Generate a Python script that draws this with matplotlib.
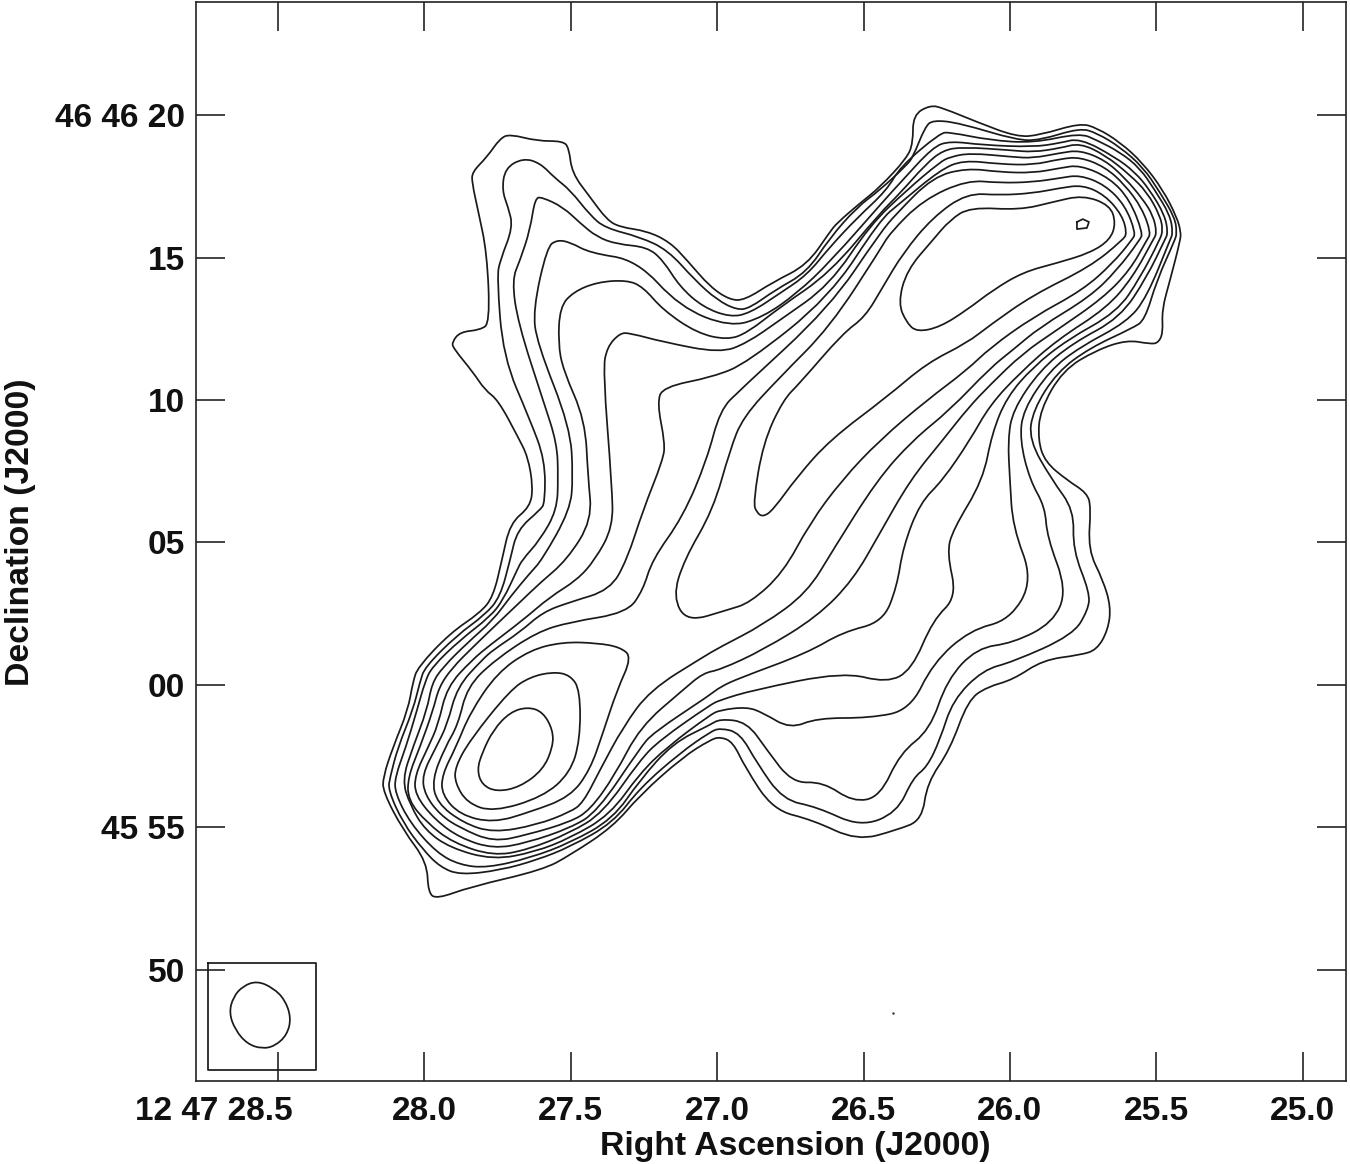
import numpy as np
import matplotlib
matplotlib.use("Agg")
import matplotlib.pyplot as plt
from matplotlib.path import Path
from matplotlib.patches import PathPatch
from matplotlib.transforms import ScaledTranslation

plt.rcParams['font.family'] = ['Liberation Sans', 'DejaVu Sans']

# contours as (RA seconds after 12 47, Dec arcsec after 46 46 00)
level1 = [(27.957,-7.51),(27.987,-7.30),(27.991,-6.21),(28.073,-5.09),(28.141,-3.75),(28.141,-3.23),(28.107,-2.18),
          (28.056,-0.88),(28.039,0.11),(28.022,0.63),(27.912,1.82),(27.810,2.53),(27.765,3.09),(27.735,4.39),
          (27.707,5.68),(27.639,6.25),(27.629,6.95),(27.646,8.00),(27.680,8.70),(27.748,10.00),(27.793,10.35),
          (27.834,10.98),(27.902,11.83),(27.905,12.04),(27.878,12.39),(27.810,12.46),(27.776,12.70),(27.786,15.16),
          (27.817,16.67),(27.837,17.62),(27.837,18.00),(27.786,18.53),(27.741,19.19),(27.707,19.33),(27.615,19.09),
          (27.526,19.09),(27.506,18.84),(27.496,17.97),(27.434,17.12),(27.376,16.32),(27.332,16.07),(27.239,15.93),
          (27.161,15.54),(27.103,14.91),(27.024,13.97),(26.956,13.51),(26.905,13.51),(26.809,14.14),(26.693,14.74),
          (26.615,15.90),(26.591,16.21),(26.512,16.91),(26.444,17.47),(26.352,18.49),(26.331,19.02),(26.331,20.00),
          (26.273,20.35),(26.229,20.25),(26.113,19.76),(25.976,19.23),(25.897,19.30),(25.761,19.72),(25.703,19.55),
          (25.624,19.05),(25.546,18.32),(25.477,17.37),(25.430,16.42),(25.416,15.90),(25.418,15.60),(25.453,14.21),
          (25.481,13.16),(25.477,12.35),(25.494,12.00),(25.522,11.97),(25.600,12.11),(25.703,11.76),(25.819,11.05),
          (25.897,9.65),(25.904,8.60),(25.880,7.83),(25.805,7.19),(25.737,6.74),(25.723,6.25),
          (25.733,4.74),(25.682,3.68),(25.655,2.74),(25.665,1.93),(25.703,1.23),(25.761,1.05),(25.887,0.88),
          (25.990,0.18),(26.078,-0.07),(26.143,-0.53),(26.205,-2.28),(26.283,-3.44),(26.300,-4.74),(26.386,-5.09),
          (26.522,-5.47),(26.673,-4.74),(26.809,-4.39),(26.905,-2.88),(26.946,-2.00),(26.990,-1.82),(27.024,-1.93),
          (27.117,-2.53),(27.263,-3.86),(27.356,-4.98),(27.502,-5.97),(27.595,-6.49),(27.844,-7.09)]

level2 = [(27.878,-6.67),(27.946,-6.39),(28.004,-5.79),(28.073,-4.84),(28.124,-3.68),(28.117,-3.23),(28.090,-2.18),
          (28.039,-0.88),(28.015,0.11),(27.998,0.63),(27.888,1.75),(27.793,2.46),(27.741,3.09),(27.707,4.39),
          (27.683,5.44),(27.605,6.14),(27.588,6.39),(27.588,7.90),(27.639,9.30),(27.731,11.51),(27.752,14.32),
          (27.741,14.91),(27.697,16.07),(27.714,16.77),(27.735,17.37),(27.724,18.14),(27.663,18.49),(27.605,18.32),
          (27.554,17.79),(27.502,17.37),(27.434,16.49),(27.383,16.04),(27.263,15.72),(27.168,15.26),(27.076,14.21),
          (27.000,13.51),(26.932,13.16),(26.888,13.23),(26.802,13.86),(26.693,14.49),(26.615,15.69),(26.522,16.77),
          (26.444,17.37),(26.352,18.25),(26.331,18.53),(26.290,19.58),(26.263,19.83),(26.171,19.72),(25.976,19.12),
          (25.897,19.12),(25.761,19.55),(25.703,19.37),(25.624,18.88),(25.546,18.18),(25.488,17.30),(25.436,16.39),
          (25.430,15.86),(25.436,15.62),(25.498,14.21),(25.539,12.81),(25.580,12.53),(25.727,11.83),(25.839,10.98),
          (25.921,9.65),(25.935,8.60),(25.856,7.19),(25.781,6.14),(25.785,4.74),
          (25.727,3.23),(25.733,2.63),(25.785,1.75),(25.990,0.81),(26.092,0.53),(26.195,-0.53),(26.239,-1.93),
          (26.283,-2.88),(26.331,-3.26),(26.386,-4.49),(26.512,-4.98),(26.659,-4.28),(26.775,-4.04),(26.864,-2.74),
          (26.922,-1.68),(26.990,-1.51),(27.024,-1.65),(27.127,-2.39),(27.263,-3.61),(27.356,-4.84),(27.502,-5.68),
          (27.615,-6.14),(27.740,-6.50)]

level3 = [(27.786,-6.42),(27.878,-6.32),(27.957,-5.90),(28.049,-4.84),(28.100,-3.79),(28.100,-3.23),(28.063,-2.18),
          (28.025,-0.88),(27.998,0.11),(27.974,0.63),(27.878,1.58),(27.776,2.39),(27.731,2.98),(27.683,4.04),
          (27.666,4.39),(27.605,5.09),(27.547,6.14),(27.543,7.30),(27.547,8.49),(27.595,10.00),(27.680,12.70),
          (27.701,14.21),(27.673,14.91),(27.639,15.97),(27.622,17.09),(27.598,17.12),(27.526,16.77),(27.468,16.21),
          (27.410,15.72),(27.342,15.47),(27.239,15.37),(27.185,14.91),(27.127,13.97),(27.048,13.26),(26.956,12.91),
          (26.888,13.05),(26.785,13.75),(26.693,14.39),(26.615,15.37),(26.522,16.39),(26.420,17.37),(26.375,18.18),
          (26.239,19.37),(26.205,19.40),(26.068,19.12),(25.921,19.02),(25.761,19.37),(25.703,19.12),(25.624,18.70),
          (25.556,18.14),(25.505,17.37),(25.453,16.49),(25.443,15.86),(25.453,15.62),(25.532,13.62),(25.600,12.74),
          (25.761,11.86),(25.863,11.05),(25.955,9.65),(25.966,8.60),(25.932,7.19),(25.880,6.25),
          (25.873,5.19),(25.805,3.33),(25.853,2.18),(25.990,1.47),(26.113,1.30),(26.215,0.18),(26.273,-1.58),
          (26.375,-2.39),(26.444,-3.93),(26.536,-4.11),(26.638,-3.40),(26.744,-3.44),(26.830,-2.28),(26.898,-1.30),
          (26.990,-1.19),(27.024,-1.40),(27.151,-2.04),(27.263,-3.33),(27.356,-4.70),(27.502,-5.54),(27.639,-6.07)]

level4 = [(27.765,-6.14),(27.912,-5.72),(27.998,-5.09),(28.049,-4.21),(28.076,-3.33),(28.039,-2.18),(27.991,-0.88),
          (27.974,0.07),(27.936,0.63),(27.854,1.47),(27.765,2.28),(27.707,3.09),(27.639,3.93),(27.598,4.39),
          (27.502,6.14),(27.492,7.30),(27.502,9.05),(27.615,12.00),(27.629,13.16),(27.581,15.37),(27.547,15.62),
          (27.502,15.54),(27.434,15.16),(27.274,14.91),(27.127,13.26),(26.956,12.56),(26.843,12.91),(26.727,13.75),
          (26.615,14.84),(26.420,17.12),(26.375,17.62),(26.263,18.88),(26.205,19.09),(26.092,18.95),(25.921,18.88),
          (25.829,19.02),(25.761,19.19),(25.641,18.53),(25.573,18.00),(25.522,17.37),(25.471,16.49),(25.460,15.86),
          (25.471,15.62),(25.532,14.32),(25.624,12.88),(25.785,12.00),(25.897,11.05),(25.990,9.65),(26.007,8.60),
          (26.000,7.19),(25.990,5.54),(25.921,3.68),(26.000,2.28),(26.136,1.93),(26.263,0.77),(26.341,-0.88),
          (26.478,-1.16),(26.659,-1.16),(26.751,-1.54),(26.843,-0.98),(26.898,-0.77),(26.990,-0.88),(27.024,-1.05),
          (27.171,-2.18),(27.263,-3.09),(27.366,-4.56),(27.502,-5.37),(27.622,-5.86)]

level5 = [(27.765,-6.00),(27.902,-5.54),(27.991,-4.84),(28.056,-4.04),(28.056,-3.23),(28.015,-2.18),(27.970,-0.88),
          (27.950,-0.07),(27.905,0.60),(27.834,1.33),(27.748,2.18),(27.673,2.91),(27.605,3.58),(27.513,4.39),
          (27.427,5.79),(27.441,7.30),(27.451,9.30),(27.526,11.05),(27.543,12.00),(27.537,13.26),(27.492,13.79),
          (27.410,14.14),(27.308,14.21),(27.253,13.97),(27.185,13.16),(27.069,12.35),(26.966,12.11),(26.898,12.35),
          (26.785,13.26),(26.615,14.46),(26.444,16.56),(26.375,17.26),(26.290,18.25),(26.229,18.77),(26.160,18.88),
          (26.000,18.77),(25.921,18.70),(25.829,18.84),(25.761,19.02),(25.675,18.60),(25.590,17.90),(25.532,17.30),
          (25.488,16.49),(25.477,15.97),(25.488,15.62),(25.556,14.28),(25.634,13.09),(25.805,12.11),(25.921,11.16),
          (26.010,10.11),(26.061,8.84),(26.092,7.19),(26.195,5.44),(26.215,4.63),(26.181,3.09),(26.263,2.28),
          (26.335,0.53),(26.420,0.07),(26.570,0.46),(26.877,-0.18),(26.990,-0.53),(27.024,-0.70),(27.195,-1.93),
          (27.263,-2.63),(27.390,-4.49),(27.502,-5.19),(27.649,-5.79)]

level6 = [(27.765,-5.75),(27.878,-5.37),(27.963,-4.74),(28.032,-3.86),(28.032,-3.16),(27.987,-2.18),(27.953,-1.40),
          (27.923,-0.07),(27.837,0.88),(27.776,1.40),(27.663,2.28),(27.571,3.09),(27.479,3.68),(27.417,4.39),
          (27.356,5.54),(27.359,6.95),(27.390,11.05),(27.376,11.86),(27.332,12.35),(27.298,12.35),(27.185,12.04),
          (26.990,11.65),(26.898,12.00),(26.785,12.81),(26.615,14.04),(26.478,16.14),(26.352,17.37),(26.239,18.35),
          (26.205,18.53),(26.136,18.67),(25.990,18.53),(25.921,18.49),(25.829,18.67),(25.761,18.77),(25.675,18.42),
          (25.607,17.79),(25.549,17.09),(25.511,16.49),(25.498,15.86),(25.511,15.62),(25.580,14.32),(25.669,13.23),
          (25.839,12.11),(25.966,10.95),(26.068,9.83),(26.136,8.60),(26.229,7.19),(26.307,6.39),(26.365,4.84),
          (26.386,3.44),(26.434,2.21),(26.570,1.86),(26.693,1.12),(26.922,0.25),(26.990,-0.07),(27.024,-0.35),
          (27.219,-1.68),(27.263,-2.21),(27.410,-4.46),(27.502,-5.02),(27.649,-5.54)]

level7 = [(27.765,-5.51),(27.878,-5.02),(27.946,-4.56),(27.998,-3.86),(28.008,-3.16),(27.960,-2.18),(27.922,-1.40),
          (27.888,-0.07),(27.803,0.88),(27.765,1.23),(27.673,1.86),(27.595,2.56),(27.502,2.91),(27.366,3.33),
          (27.308,4.39),(27.253,6.14),(27.185,7.90),(27.178,8.49),(27.205,9.90),(27.185,10.46),(27.014,10.81),
          (26.898,11.30),(26.615,13.62),(26.444,16.32),(26.375,16.91),(26.239,18.07),(26.160,18.42),(26.034,18.28),
          (25.921,18.25),(25.829,18.46),(25.761,18.53),(25.675,18.18),(25.607,17.55),(25.549,16.74),(25.518,15.86),
          (25.532,15.62),(25.590,14.56),(25.682,13.58),(25.839,12.46),(25.955,11.65),(26.068,10.53),(26.143,9.72),
          (26.229,8.60),(26.341,7.19),(26.444,5.33),(26.536,3.68),(26.659,2.39),(26.843,1.23),(26.990,0.53),
          (27.048,0.42),(27.117,-0.18),(27.263,-1.47),(27.349,-3.16),(27.434,-4.39),(27.502,-4.81),(27.649,-5.26)]

level8 = [(27.765,-5.19),(27.868,-4.84),(27.957,-4.14),(27.974,-3.33),(27.929,-2.18),(27.885,-1.40),(27.854,-0.07),
          (27.759,0.88),(27.615,1.86),(27.502,2.21),(27.308,2.53),(27.253,3.33),(27.222,4.39),(27.117,5.90),
          (27.035,7.90),(26.990,9.65),(26.922,10.35),(26.615,13.26),(26.444,15.86),(26.386,16.56),(26.263,17.83),
          (26.147,18.14),(26.034,18.00),(25.921,17.97),(25.829,18.14),(25.761,18.25),(25.658,17.79),(25.590,17.02),
          (25.546,15.86),(25.556,15.62),(25.634,14.56),(25.727,13.62),(25.897,12.56),(25.990,11.76),(26.068,11.12),
          (26.205,9.65),(26.331,8.60),(26.454,7.19),(26.604,4.74),(26.693,3.23),(26.843,2.11),(26.990,1.33),
          (27.048,0.98),(27.229,-0.18),(27.321,-1.47),(27.400,-2.98),(27.458,-4.14),(27.502,-4.46),(27.615,-4.91)]

level9_ne = [(27.151,3.09),(27.113,4.39),(27.014,6.14),(26.956,8.25),(26.912,9.40),(26.785,10.81),(26.615,12.56),
             (26.444,15.26),(26.410,15.86),(26.297,17.02),(26.147,17.72),(26.034,17.62),(25.921,17.65),(25.829,17.79),
             (25.761,17.90),(25.675,17.55),(25.607,16.84),(25.570,15.86),(25.583,15.62),(25.648,14.81),(25.751,13.86),
             (25.921,12.91),(26.068,11.83),(26.147,11.05),(26.283,10.00),(26.444,8.60),(26.574,7.19),(26.683,5.68),
             (26.775,3.93),(26.888,2.88),(26.966,2.63),(27.103,2.21)]

level9_sw = [(27.291,0.98),(27.342,-0.18),(27.390,-1.68),(27.434,-2.98),(27.502,-3.93),(27.639,-4.46),
             (27.765,-4.84),(27.878,-4.56),(27.940,-3.86),(27.940,-3.16),(27.892,-2.18),(27.844,-0.98),(27.752,0.42),
             (27.639,1.23),(27.526,1.51),(27.410,1.47),(27.332,1.33)]

level10_ne = [(26.877,6.39),(26.864,6.04),(26.843,5.90),(26.809,6.14),(26.727,7.30),(26.615,8.60),(26.420,10.11),
              (26.283,11.30),(26.147,12.00),(26.068,12.63),(25.921,13.69),(25.727,14.67),(25.614,15.62),(25.600,15.86),
              (25.617,16.49),(25.675,17.19),(25.751,17.55),(25.829,17.44),(25.921,17.26),(26.034,17.19),(26.147,17.26),
              (26.263,16.42),(26.365,15.16),(26.434,13.97),(26.495,12.91),(26.570,12.35),(26.717,10.60),(26.775,10.00),
              (26.843,8.49)]

level10_sw = [(27.765,-4.46),(27.854,-4.14),(27.895,-3.44),(27.895,-2.88),(27.844,-1.93),(27.707,-0.18),(27.639,0.28),
              (27.561,0.46),(27.502,0.35),(27.468,-0.18),(27.468,-1.93),(27.502,-3.09),(27.595,-3.93)]

level11_ne = [(26.382,13.40),(26.352,12.70),(26.317,12.39),(26.239,12.56),(26.147,13.16),(26.058,13.86),(25.955,14.49),
              (25.839,14.81),(25.727,15.16),(25.658,15.62),(25.638,16.21),(25.658,16.84),(25.751,17.19),(25.853,16.95),
              (25.966,16.67),(26.136,16.77),(26.205,16.32),(26.263,15.62),(26.352,14.56)]

level11_sw = [(27.820,-2.98),(27.803,-3.51),(27.752,-3.75),(27.673,-3.58),(27.595,-2.98),(27.561,-2.18),(27.561,-1.58),
              (27.595,-0.95),(27.646,-0.77),(27.707,-0.95),(27.765,-1.58),(27.803,-2.39)]

peak_ra = [25.771, 25.751, 25.730, 25.737, 25.771, 25.771]
peak_dec = [16.25, 16.35, 16.25, 16.04, 16.00, 16.25]

beam = [(28.571,-10.39),(28.517,-10.63),(28.476,-11.05),(28.455,-11.69),(28.469,-12.28),(28.510,-12.67),
        (28.554,-12.77),(28.605,-12.60),(28.646,-12.11),(28.667,-11.51),(28.653,-10.95),(28.619,-10.56)]
beam_box_ra = [28.739, 28.370, 28.370, 28.739, 28.739]
beam_box_dec = [-9.75, -9.75, -13.51, -13.51, -9.75]

ra_ticks = [28.5, 28.0, 27.5, 27.0, 26.5, 26.0, 25.5, 25.0]
ra_labels = ['12 47 28.5', '28.0', '27.5', '27.0', '26.5', '26.0', '25.5', '25.0']
dec_ticks = [20, 15, 10, 5, 0, -5, -10]
dec_labels = ['46 46 20', '15', '10', '05', '00', '45 55', '50']


def smooth_curve(points):
    # closed curve through the midpoints, traced points act as control points
    pts = np.array(points)
    mids = (pts + np.roll(pts, -1, axis=0)) / 2
    verts = [mids[-1]]
    codes = [Path.MOVETO]
    for p, m in zip(pts, mids):
        verts += [p, m]
        codes += [Path.CURVE3, Path.CURVE3]
    return Path(verts, codes)


fig = plt.figure(figsize=(13.5, 11.64), dpi=100)
ax = fig.add_axes([196 / 1350, 1 - 1081 / 1164, 1150 / 1350, 1079 / 1164])

contours = [level1, level2, level3, level4, level5, level6, level7, level8, level9_ne, level9_sw,
            level10_ne, level10_sw, level11_ne, level11_sw, beam]
for c in contours:
    ax.add_patch(PathPatch(smooth_curve(c), fill=False, edgecolor='#1a1a1a', linewidth=1.25))

ax.plot(peak_ra, peak_dec, color='#1a1a1a', linewidth=1.25)
ax.plot(beam_box_ra, beam_box_dec, color='#1a1a1a', linewidth=1.25)
ax.plot([26.399], [-11.51], marker='.', markersize=1.5, color='#333333')

ax.set_xlim(28.780, 24.852)
ax.set_ylim(-13.90, 23.97)

ax.set_xticks(ra_ticks)
ax.set_xticklabels(ra_labels)
ax.set_yticks(dec_ticks)
ax.set_yticklabels(dec_labels)
ax.tick_params(axis='both', direction='in', length=21, width=1.1, top=True, right=True,
               labelsize=24, colors='#111111')
ax.tick_params(axis='x', pad=10.5)
ax.tick_params(axis='y', pad=8)
for lab in ax.get_xticklabels() + ax.get_yticklabels():
    lab.set_fontweight('bold')
# the long first label hangs to the left, its seconds sit under the tick
first = ax.get_xticklabels()[0]
first.set_horizontalalignment('right')
first.set_transform(first.get_transform() + ScaledTranslation(0.15, 0, fig.dpi_scale_trans))
for s in ax.spines.values():
    s.set_linewidth(1.2)
    s.set_color('#222222')

ax.set_xlabel('Right Ascension (J2000)', fontsize=24.3, fontweight='bold', color='#111111')
ax.set_ylabel('Declination (J2000)', fontsize=24.3, fontweight='bold', color='#111111')
ax.xaxis.set_label_coords(0.521, -0.0605)
ax.yaxis.set_label_coords(-0.153, 0.509)
ax.xaxis.label.set_verticalalignment('center')
ax.yaxis.label.set_verticalalignment('center')

fig.savefig('out.png', dpi=100)
